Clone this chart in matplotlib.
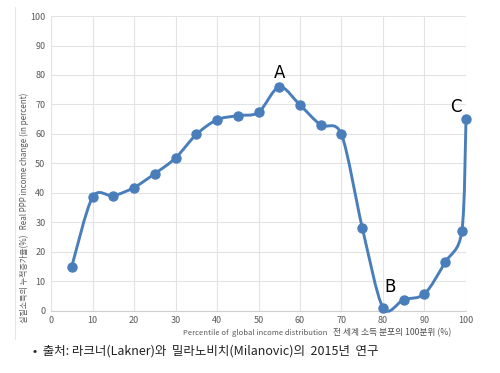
import numpy as np
import matplotlib.pyplot as plt
from matplotlib.path import Path
from matplotlib.patches import PathPatch
from matplotlib.lines import Line2D

plt.rcParams['font.family'] = ['Noto Sans CJK KR', 'DejaVu Sans']

percentile = [5, 10, 15, 20, 25, 30, 35, 40, 45, 50, 55, 60, 65, 70, 75, 80, 85, 90, 95, 99, 100]
income_change = [15, 38.5, 39, 41.8, 46.5, 51.8, 59.8, 64.8, 66.2, 67.3, 76, 69.8, 63, 59.8,
                 28.2, 1, 3.8, 5.7, 16.5, 27, 65]
point_labels = ["A", "B", "C"]
label_pos = [(55, 80.5), (81.7, 8), (97.5, 69)]

x_ticks = list(range(0, 101, 10))
y_ticks = list(range(0, 101, 10))

blue = "#4a7ebb"
tick_color = "#595959"

fig = plt.figure(figsize=(5, 3.73), dpi=100)
ax = fig.add_axes([0.102, 0.167, 0.83, 0.79])

# smoothed line like Excel (Catmull-Rom as cubic Bezier segments)
x = np.array(percentile, dtype=float)
y = np.array(income_change, dtype=float)
verts = [(x[0], y[0])]
codes = [Path.MOVETO]
t = 0.45 / 3
for i in range(len(x) - 1):
    x0, y0 = (x[i - 1], y[i - 1]) if i > 0 else (x[i], y[i])
    x3, y3 = (x[i + 2], y[i + 2]) if i + 2 < len(x) else (x[i + 1], y[i + 1])
    c1 = (x[i] + (x[i + 1] - x0) * t, y[i] + (y[i + 1] - y0) * t)
    c2 = (x[i + 1] - (x3 - x[i]) * t, y[i + 1] - (y3 - y[i]) * t)
    verts += [c1, c2, (x[i + 1], y[i + 1])]
    codes += [Path.CURVE4] * 3
ax.add_patch(PathPatch(Path(verts, codes), facecolor="none", edgecolor=blue, lw=2.1,
                       clip_on=False, zorder=3))
ax.plot(percentile, income_change, linestyle="none", marker="o", markersize=6.5,
        color=blue, zorder=4, clip_on=False)

for lab, (lx, ly) in zip(point_labels, label_pos):
    ax.text(lx, ly, lab, fontsize=12, ha="center", va="center", color="black",
            family=["DejaVu Sans"])

ax.set_xlim(0, 100)
ax.set_ylim(0, 100)
ax.set_xticks(x_ticks)
ax.set_yticks(y_ticks)
ax.grid(True, color="#e3e3e3", lw=0.8)
ax.set_axisbelow(True)
for side in ["top", "right", "left"]:
    ax.spines[side].set_visible(False)
ax.spines["bottom"].set_color("#d0d0d0")
ax.tick_params(length=0, labelsize=6.5, colors=tick_color, pad=4)

ax.set_ylabel("실질소득의 누적증가율(%)   Real PPP income change (in percent)",
              fontsize=5.8, color=tick_color)
ax.yaxis.set_label_coords(-0.052, 0.35)

ax.text(0.665, -0.075, "Percentile of  global income distribution", transform=ax.transAxes,
        fontsize=5.5, color=tick_color, ha="right", va="center")
ax.text(0.68, -0.075, "전 세계 소득 분포의 100분위 (%)", transform=ax.transAxes,
        fontsize=6.3, color="#505050", ha="left", va="center", fontweight="medium")

fig.add_artist(Line2D([0.03, 0.03], [0.09, 0.98], color="#e6e6e6", lw=0.8))
fig.text(0.066, 0.058, "•  출처: 라크너(Lakner)와  밀라노비치(Milanovic)의  2015년  연구",
         fontsize=9, color="#222222", va="center")

fig.savefig("out.png", dpi=100)
